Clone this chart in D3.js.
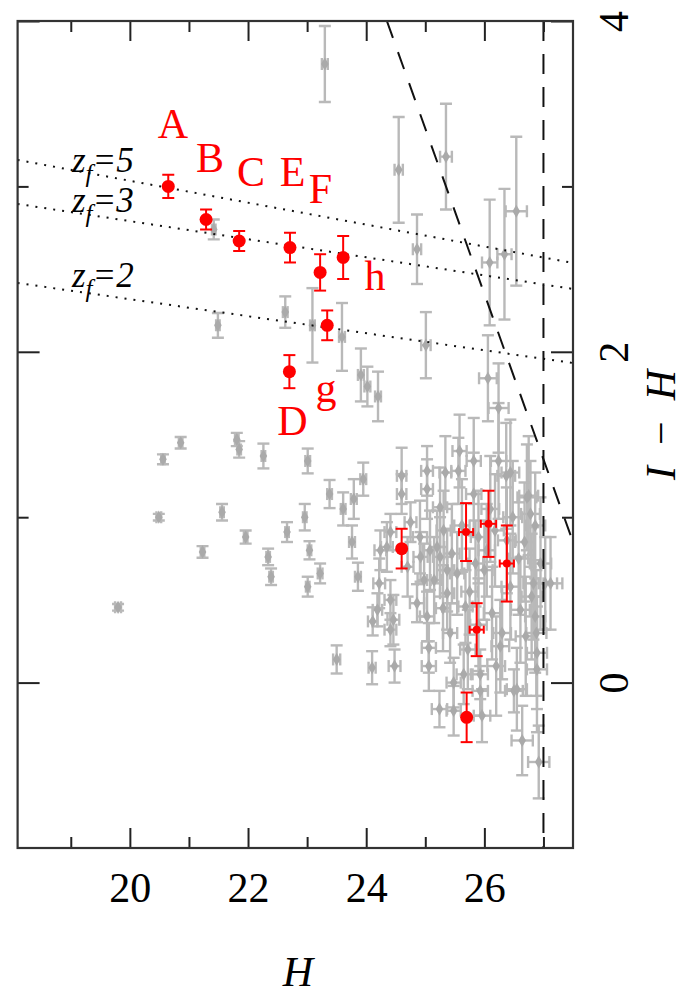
<!DOCTYPE html>
<html>
<head>
<meta charset="utf-8">
<script src="https://cdn.jsdelivr.net/npm/d3@7"></script>
<style>
  body { margin: 0; background: #fff; }
</style>
</head>
<body>
<div id="wrap"></div>
<script>
// gray sample: H, I-H and their errors
const grayH = [19.80,20.49,20.56,20.86,21.23,21.56,21.81,21.85,21.96,22.26,22.34,22.39,22.66,23.01,23.38,23.61,23.79,23.95,22.96,23.04,
  23.01,23.22,23.76,23.86,23.50,24.10,23.91,24.02,24.20,23.30,21.49,21.42,22.63,23.09,23.59,24.55,24.86,25.35,25.01,26.09,
  26.34,26.54,26.06,26.24,24.11,24.19,24.22,24.24,24.41,24.41,24.41,24.48,24.60,24.60,24.75,24.86,24.92,25.03,25.03,25.03,
  25.06,25.06,25.20,25.25,25.31,25.34,25.37,25.37,25.42,25.48,25.24,25.48,25.58,25.56,25.54,25.65,25.68,25.82,25.82,25.85,
  25.90,25.93,25.93,25.96,26.04,26.13,26.24,26.27,26.37,26.38,26.44,26.50,26.61,26.64,26.72,26.78,26.83,26.86,26.88,26.89,
  26.89,26.92,26.86,27.03,26.44,26.75,27.12,26.55,25.08,24.91,24.35,25.25,24.46,
  25.15,25.45,25.62,25.75,26.00,26.18,26.30,26.58,26.68,26.95,24.70,24.98,25.72,26.10,26.48,26.80,25.30,25.90,26.20,26.70];
const grayIH = [0.455,1.00,1.35,1.45,0.79,1.03,1.47,1.41,0.88,1.37,0.76,0.64,0.91,1.34,1.14,1.05,1.11,1.23,1.00,0.80,
  0.58,0.66,0.85,0.64,0.14,0.09,1.86,1.79,1.73,3.74,2.16,2.74,2.24,2.16,2.09,3.10,2.62,3.18,2.04,2.54,
  2.59,2.85,1.84,1.66,0.37,0.44,0.60,0.80,0.91,0.50,0.32,0.10,1.25,1.14,0.97,0.48,0.76,1.28,1.17,0.40,
  0.21,0.10,0.82,1.06,0.92,1.27,0.68,0.54,0.30,0.00,-0.16,-0.17,1.40,1.28,0.66,0.05,0.46,1.34,1.14,0.72,
  0.88,0.05,-0.05,-0.20,0.80,0.42,1.34,0.22,1.25,0.86,0.58,-0.05,0.44,-0.35,1.12,1.02,0.60,0.40,0.30,0.18,
  0.08,-0.48,0.95,0.60,1.27,1.13,0.60,-0.04,0.80,0.88,0.82,0.76,0.38,
  0.62,0.78,0.95,0.55,0.68,0.92,0.30,0.75,0.85,0.72,0.70,0.62,0.20,1.05,1.00,0.52,0.45,0.35,0.10,0.28];
const grayErrIH = [0.02,0.02,0.03,0.035,0.035,0.05,0.04,0.05,0.04,0.075,0.05,0.05,0.06,0.075,0.085,0.10,0.12,0.10,0.08,0.055,
  0.06,0.06,0.10,0.085,0.085,0.10,0.16,0.12,0.15,0.23,0.075,0.06,0.095,0.225,0.205,0.32,0.21,0.32,0.20,0.38,
  0.395,0.45,0.26,0.27,0.085,0.10,0.15,0.12,0.11,0.12,0.10,0.10,0.17,0.12,0.12,0.115,0.15,0.15,0.18,0.15,
  0.15,0.15,0.22,0.24,0.24,0.22,0.25,0.22,0.18,0.15,0.11,0.15,0.22,0.20,0.25,0.18,0.22,0.26,0.25,0.26,
  0.28,0.15,0.15,0.16,0.28,0.28,0.35,0.28,0.32,0.32,0.32,0.13,0.32,0.21,0.32,0.32,0.34,0.34,0.38,0.34,
  0.38,0.22,0.32,0.28,0.32,0.36,0.28,0.25,0.24,0.22,0.15,0.24,0.15,
  0.26,0.30,0.28,0.26,0.30,0.34,0.28,0.34,0.36,0.40,0.18,0.22,0.24,0.32,0.34,0.38,0.26,0.28,0.30,0.36];
const grayErrH = [0.05,0.04,0.03,0.03,0.03,0.03,0.03,0.03,0.03,0.03,0.03,0.03,0.03,0.04,0.04,0.04,0.05,0.05,0.03,0.03,
  0.03,0.04,0.05,0.05,0.06,0.06,0.05,0.05,0.05,0.05,0.03,0.03,0.04,0.04,0.05,0.07,0.07,0.10,0.08,0.13,
  0.12,0.18,0.15,0.17,0.08,0.08,0.10,0.10,0.10,0.10,0.10,0.10,0.08,0.08,0.10,0.12,0.12,0.10,0.10,0.12,
  0.12,0.12,0.12,0.12,0.12,0.10,0.12,0.12,0.12,0.12,0.13,0.12,0.12,0.12,0.12,0.12,0.12,0.12,0.13,0.13,
  0.13,0.13,0.13,0.14,0.14,0.14,0.13,0.15,0.15,0.15,0.15,0.15,0.16,0.18,0.16,0.16,0.17,0.17,0.17,0.17,
  0.17,0.18,0.17,0.20,0.15,0.16,0.20,0.17,0.12,0.12,0.10,0.12,0.10,
  0.12,0.13,0.13,0.14,0.14,0.15,0.15,0.16,0.16,0.18,0.10,0.11,0.13,0.15,0.16,0.17,0.12,0.14,0.15,0.17];

// red objects
const redH = [20.65,21.29,21.85,22.71,23.22,23.61,23.34,22.70,24.60,25.70,25.69,26.07,26.38,25.87];
const redIH = [3.00,2.80,2.67,2.63,2.48,2.57,2.16,1.88,0.81,-0.21,0.91,0.96,0.72,0.32];
const redErrIH = [0.07,0.06,0.06,0.09,0.11,0.13,0.09,0.10,0.12,0.15,0.175,0.20,0.23,0.16];
const redErrH = [0,0,0,0,0,0,0,0,0,0,0.12,0.13,0.12,0.12];
const redBig = [1,1,1,1,1,1,1,1,1,1,0,0,0,0];

// red letters
const labelText = ['A','B','C','E','F','g','D','h'];
const labelH = [20.73,21.355,22.05,22.753,23.227,23.318,22.753,24.147];
const labelIH = [3.293,3.087,3.0,3.0,2.9,1.697,1.497,2.374];

// z_f tracks (dotted)
const zfNames = ['5','3','2'];
const zfH = [18.1,27.5];
const zfIH = [[3.16,2.537],[2.894,2.38],[2.416,1.932]];
const zfLabelH = 19.02;
const zfLabelIH = [3.087,2.845,2.392];

// limits (dashed)
const limitI = 28.35;
const limitH = 27;

// ticks
const xTicks = [20,22,24,26];
const xMinor = [19,21,23,25,27];
const yTicks = [0,2,4];
const yMinor = [1,3];

chart();
function chart(){
  const WIDTH = 692;
  const HEIGHT = 995;
  const GRAY = '#b9b9b9';
  const RED = '#ff0000';
  const FONT = 'Liberation Serif, DejaVu Serif, serif';

  const svg = d3.select('#wrap')
    .append('svg')
    .attr('width', WIDTH)
    .attr('height', HEIGHT)
    .style('background', '#fff');

  const x = d3.scaleLinear().domain([18.1, 27.5]).range([17.6, 573]);
  const y = d3.scaleLinear().domain([-1, 4]).range([848, 21]);

  svg.append('clipPath').attr('id', 'clip')
    .append('rect')
    .attr('x', x.range()[0]).attr('y', y.range()[1])
    .attr('width', x.range()[1] - x.range()[0])
    .attr('height', y.range()[0] - y.range()[1]);

  const plot = svg.append('g').attr('clip-path', 'url(#clip)');

  // gray error bars
  const gray = plot.append('g');
  const gIdx = d3.range(grayH.length);
  const cap = 6;
  gIdx.forEach(i => {
    const cx = x(grayH[i]), cy = y(grayIH[i]);
    const y0 = y(grayIH[i] - grayErrIH[i]), y1 = y(grayIH[i] + grayErrIH[i]);
    const x0 = x(grayH[i] - grayErrH[i]), x1 = x(grayH[i] + grayErrH[i]);
    const g = gray.append('g').attr('stroke', GRAY).attr('stroke-width', 2.4);
    g.append('line').attr('x1', cx).attr('x2', cx).attr('y1', y0).attr('y2', y1);
    g.append('line').attr('x1', cx - cap).attr('x2', cx + cap).attr('y1', y0).attr('y2', y0);
    g.append('line').attr('x1', cx - cap).attr('x2', cx + cap).attr('y1', y1).attr('y2', y1);
    g.append('line').attr('x1', x0).attr('x2', x1).attr('y1', cy).attr('y2', cy);
    g.append('line').attr('x1', x0).attr('x2', x0).attr('y1', cy - cap).attr('y2', cy + cap);
    g.append('line').attr('x1', x1).attr('x2', x1).attr('y1', cy - cap).attr('y2', cy + cap);
  });
  gray.selectAll('path.pt')
    .data(gIdx)
    .enter()
    .append('path')
    .attr('class', 'pt')
    .attr('d', d3.symbol().type(d3.symbolDiamond).size(50))
    .attr('transform', i => 'translate(' + x(grayH[i]) + ',' + y(grayIH[i]) + ')')
    .attr('fill', '#aaaaaa');

  // dotted z_f tracks
  const line = d3.line().x(d => x(d[0])).y(d => y(d[1]));
  zfIH.forEach(v => {
    plot.append('path')
      .attr('d', line(zfH.map((h, k) => [h, v[k]])))
      .attr('fill', 'none')
      .attr('stroke', '#111')
      .attr('stroke-width', 2)
      .attr('stroke-dasharray', '2,7');
  });

  // dashed limits
  const h0 = limitI - 4, h1 = 27.5;
  plot.append('path')
    .attr('d', line([[h0, limitI - h0], [h1, limitI - h1]]))
    .attr('stroke', '#111').attr('stroke-width', 2).attr('fill', 'none')
    .attr('stroke-dasharray', '18,15');
  plot.append('path')
    .attr('d', line([[limitH, 4], [limitH, -1]]))
    .attr('stroke', '#111').attr('stroke-width', 2).attr('fill', 'none')
    .attr('stroke-dasharray', '20,13');

  // red objects
  const red = plot.append('g');
  d3.range(redH.length).forEach(i => {
    const cx = x(redH[i]), cy = y(redIH[i]);
    const y0 = y(redIH[i] - redErrIH[i]), y1 = y(redIH[i] + redErrIH[i]);
    const g = red.append('g').attr('stroke', RED).attr('stroke-width', 2);
    g.append('line').attr('x1', cx).attr('x2', cx).attr('y1', y0).attr('y2', y1);
    g.append('line').attr('x1', cx - cap).attr('x2', cx + cap).attr('y1', y0).attr('y2', y0);
    g.append('line').attr('x1', cx - cap).attr('x2', cx + cap).attr('y1', y1).attr('y2', y1);
    if (redErrH[i] > 0) {
      const x0 = x(redH[i] - redErrH[i]), x1 = x(redH[i] + redErrH[i]);
      g.append('line').attr('x1', x0).attr('x2', x1).attr('y1', cy).attr('y2', cy);
      g.append('line').attr('x1', x0).attr('x2', x0).attr('y1', cy - 4).attr('y2', cy + 4);
      g.append('line').attr('x1', x1).attr('x2', x1).attr('y1', cy - 4).attr('y2', cy + 4);
    }
    g.append('circle')
      .attr('cx', cx).attr('cy', cy)
      .attr('r', redBig[i] ? 6.5 : 4)
      .attr('fill', RED).attr('stroke', 'none');
  });

  // red letters
  svg.append('g').selectAll('text')
    .data(labelText)
    .enter()
    .append('text')
    .attr('x', (d, i) => x(labelH[i]))
    .attr('y', (d, i) => y(labelIH[i]))
    .attr('text-anchor', 'middle')
    .attr('font-family', FONT)
    .attr('font-size', 42)
    .attr('fill', RED)
    .text(d => d);

  // z_f labels
  zfNames.forEach((n, i) => {
    const t = svg.append('text')
      .attr('x', x(zfLabelH))
      .attr('y', y(zfLabelIH[i]))
      .attr('font-family', FONT)
      .attr('font-style', 'italic')
      .attr('font-size', 35)
      .attr('fill', '#000');
    t.append('tspan').text('z');
    t.append('tspan').attr('dy', 10).attr('font-size', 25).text('f');
    t.append('tspan').attr('dy', -10).text('=' + n);
  });

  // axes: major and minor ticks go in separate groups
  const fmt = d3.format('d');
  const axes = svg.append('g');
  const x0 = x.range()[0], x1 = x.range()[1], yb = y.range()[0], yt = y.range()[1];
  function addAxis(axis, tx, ty) {
    return axes.append('g').attr('transform', 'translate(' + tx + ',' + ty + ')').call(axis);
  }
  addAxis(d3.axisBottom(x).tickValues(xTicks).tickSize(-20).tickSizeOuter(0).tickPadding(24).tickFormat(fmt), 0, yb);
  addAxis(d3.axisBottom(x).tickValues(xMinor).tickSize(-11).tickSizeOuter(0).tickFormat(''), 0, yb);
  addAxis(d3.axisTop(x).tickValues(xTicks).tickSize(-20).tickSizeOuter(0).tickFormat(''), 0, yt);
  addAxis(d3.axisTop(x).tickValues(xMinor).tickSize(-11).tickSizeOuter(0).tickFormat(''), 0, yt);
  addAxis(d3.axisLeft(y).tickValues(yTicks).tickSize(-22).tickSizeOuter(0).tickFormat(''), x0, 0);
  addAxis(d3.axisLeft(y).tickValues(yMinor).tickSize(-11).tickSizeOuter(0).tickFormat(''), x0, 0);
  const right = addAxis(d3.axisRight(y).tickValues(yTicks).tickSize(-22).tickSizeOuter(0).tickFormat(fmt), x1, 0);
  addAxis(d3.axisRight(y).tickValues(yMinor).tickSize(-11).tickSizeOuter(0).tickFormat(''), x1, 0);

  right.selectAll('text')
    .attr('x', 0).attr('dy', '0.35em')
    .attr('text-anchor', 'middle')
    .attr('transform', 'translate(40,0) rotate(-90)');

  axes.selectAll('.domain').remove();
  axes.selectAll('.tick line').attr('stroke', '#222').attr('stroke-width', 2);
  axes.selectAll('text')
    .attr('font-family', FONT)
    .attr('font-size', 42)
    .attr('fill', '#000');

  // frame
  svg.append('rect')
    .attr('x', x0).attr('y', yt)
    .attr('width', x1 - x0)
    .attr('height', yb - yt)
    .attr('fill', 'none')
    .attr('stroke', '#333')
    .attr('stroke-width', 2.2);

  // axis titles
  svg.append('text')
    .attr('x', 298).attr('y', 986)
    .attr('text-anchor', 'middle')
    .attr('font-family', FONT).attr('font-style', 'italic')
    .attr('font-size', 42)
    .text('H');

  const ytl = svg.append('text')
    .attr('transform', 'translate(660,425) rotate(-90)')
    .attr('text-anchor', 'middle')
    .attr('dy', '0.35em')
    .attr('font-family', FONT)
    .attr('font-size', 42);
  ytl.append('tspan').attr('font-style', 'italic').text('I');
  ytl.append('tspan').text('\u2002\u2212\u2002');
  ytl.append('tspan').attr('font-style', 'italic').text('H');
}
</script>
</body>
</html>
